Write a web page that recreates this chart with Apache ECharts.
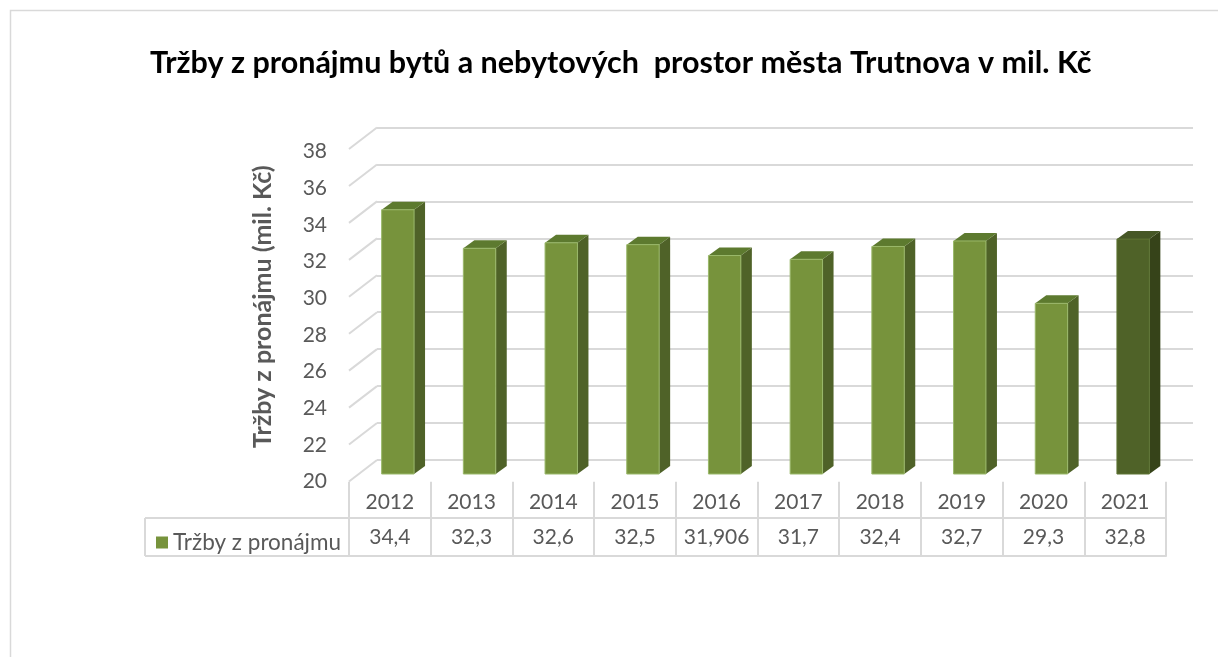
<!DOCTYPE html>
<html>
<head>
<meta charset="utf-8">
<script src="https://cdn.jsdelivr.net/npm/echarts@6/dist/echarts.min.js"></script>
<style>
  html, body { margin: 0; padding: 0; background: #fff; }
  #chart { width: 1218px; height: 657px; }
</style>
</head>
<body>
<div id="chart"></div>
<script>
// data
const roky = ['2012', '2013', '2014', '2015', '2016', '2017', '2018', '2019', '2020', '2021']
const trzby = [34.4, 32.3, 32.6, 32.5, 31.906, 31.7, 32.4, 32.7, 29.3, 32.8]
const osaY = [20, 22, 24, 26, 28, 30, 32, 34, 36, 38]
const nazevRady = 'Tržby z pronájmu'

const FONT = 'Lato'
const SEDA = '#595959'
const MRIZKA = '#d9d9d9'

const chart = echarts.init(document.getElementById('chart'))

// 3D sloupec: predni stena, bok a vrsek
function sloupec(params, api) {
  const i = api.value(0)
  const v = api.value(1)
  const top = api.coord([i, v])
  const base = api.coord([i, osaY[0]])
  const w = 32.4, dx = 11, dy = -8
  const l = top[0] - w / 2
  const r = top[0] + w / 2
  // posledni rok je zvyrazneny tmavsi barvou
  const posledni = params.dataIndex === roky.length - 1
  const predni = posledni ? '#4f6228' : '#77933c'
  const bok = posledni ? '#364319' : '#4f6228'
  const vrsek = posledni ? '#465726' : '#5d7a2f'
  const hrana = posledni ? '#5f7534' : '#9ab86a'
  return {
    type: 'group',
    children: [
      { type: 'polygon', shape: { points: [[r, top[1]], [r + dx, top[1] + dy], [r + dx, base[1] + dy], [r, base[1]]] }, style: { fill: bok } },
      { type: 'polygon', shape: { points: [[l, top[1]], [l + dx, top[1] + dy], [r + dx, top[1] + dy], [r, top[1]]] }, style: { fill: vrsek } },
      { type: 'rect', shape: { x: l, y: top[1], width: w, height: base[1] - top[1] }, style: { fill: predni, stroke: hrana, lineWidth: 1 } }
    ]
  }
}

// sikme cary podlahy/boku od zadni steny k popiskum
function sikmaCara(params, api) {
  const p = api.coord([0, api.value(0)])
  return {
    type: 'line',
    shape: { x1: p[0], y1: p[1], x2: p[0] - 28, y2: p[1] + 21.5 },
    style: { stroke: MRIZKA, lineWidth: 2 }
  }
}

const option = {
  backgroundColor: '#fff',
  animation: false,
  title: {
    text: 'Tržby z pronájmu bytů a nebytových  prostor města Trutnova v mil. Kč',
    left: 145,
    top: 43,
    textStyle: { fontFamily: FONT, fontSize: 30.5, fontWeight: 'bold', color: '#000' }
  },
  legend: {
    data: [nazevRady],
    left: 151,
    top: 526,
    icon: 'rect',
    itemWidth: 12,
    itemHeight: 12,
    itemGap: 5,
    textStyle: { fontFamily: FONT, fontSize: 22.5, color: SEDA }
  },
  grid: [
    // predni rovina: popisky osy Y a tabulka
    { left: 349, width: 817, top: 151.7, height: 330 },
    // rovina sloupcu
    { left: 357, width: 817, top: 143.7, height: 330.3 },
    // zadni stena s mrizkou
    { left: 377, width: 816, top: 127.5, height: 332.5 }
  ],
  xAxis: [
    {
      type: 'category', gridIndex: 0, data: roky, position: 'bottom',
      axisLine: { show: false },
      axisTick: { show: true, interval: 0, length: 75, lineStyle: { color: MRIZKA, width: 2 } },
      axisLabel: { interval: 0, margin: 10, fontFamily: FONT, fontSize: 21, color: SEDA }
    },
    {
      type: 'category', gridIndex: 0, data: roky, position: 'bottom', offset: 35,
      axisLine: { show: false },
      axisTick: { show: false },
      axisLabel: {
        interval: 0, margin: 10, fontFamily: FONT, fontSize: 21, color: SEDA,
        formatter: (val, idx) => String(trzby[idx]).replace('.', ',')
      }
    },
    { type: 'category', gridIndex: 1, data: roky, show: false },
    { type: 'value', gridIndex: 2, min: 0, max: 1, show: false }
  ],
  yAxis: [
    {
      type: 'value', gridIndex: 0, min: 20, max: 38, interval: 2,
      name: 'Tržby z pronájmu (mil. Kč)',
      nameLocation: 'middle', nameRotate: 90, nameGap: 74,
      nameTextStyle: { fontFamily: FONT, fontSize: 25, fontWeight: 'bold', color: SEDA, padding: [0, 0, 0, 20] },
      axisLine: { show: false }, axisTick: { show: false }, splitLine: { show: false },
      axisLabel: { margin: 22, fontFamily: FONT, fontSize: 21, color: SEDA }
    },
    { type: 'value', gridIndex: 1, min: 20, max: 38, interval: 2, show: false, splitLine: { show: false } },
    {
      type: 'value', gridIndex: 2, min: 20, max: 38, interval: 2,
      axisLine: { show: false }, axisTick: { show: false }, axisLabel: { show: false },
      splitLine: { show: true, lineStyle: { color: MRIZKA, width: 2 } }
    }
  ],
  series: [
    {
      type: 'custom', name: 'mrizka-bok', xAxisIndex: 3, yAxisIndex: 2,
      data: osaY.map(v => [v]), encode: { y: 0 },
      renderItem: sikmaCara, silent: true
    },
    {
      type: 'custom', name: nazevRady, xAxisIndex: 2, yAxisIndex: 1,
      itemStyle: { color: '#77933c' },
      data: roky.map((r, i) => [i, trzby[i]]),
      encode: { x: 0, y: 1 },
      renderItem: sloupec
    }
  ],
  graphic: [
    // ramecek grafu
    { type: 'rect', shape: { x: 10.5, y: 10.5, width: 1230, height: 680 }, style: { fill: 'none', stroke: MRIZKA, lineWidth: 1.5 }, silent: true },
    // vodorovne cary tabulky
    { type: 'line', shape: { x1: 145, y1: 518, x2: 1166, y2: 518 }, style: { stroke: MRIZKA, lineWidth: 2 } },
    { type: 'line', shape: { x1: 145, y1: 556, x2: 1166, y2: 556 }, style: { stroke: MRIZKA, lineWidth: 2 } },
    { type: 'line', shape: { x1: 145, y1: 518, x2: 145, y2: 556 }, style: { stroke: MRIZKA, lineWidth: 2 } }
  ]
}

chart.setOption(option)
</script>
</body>
</html>
